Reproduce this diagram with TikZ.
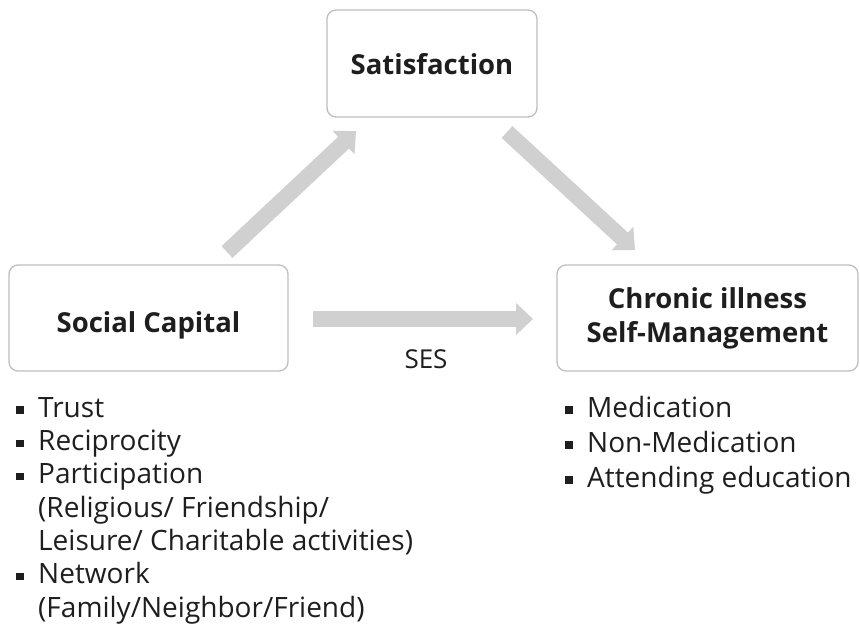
\documentclass[tikz,border=0pt]{standalone}
\usepackage{fontspec}
\setmainfont{Open Sans}
\usetikzlibrary{arrows.meta}
\definecolor{arrowgray}{HTML}{D0D0D0}
\definecolor{boxline}{HTML}{BEBEBE}
\definecolor{ink}{HTML}{1E1E1E}
\tikzset{
  box/.style={draw=boxline, line width=1.3pt, rounded corners=9pt, fill=white, inner sep=0pt,
    text=ink, align=center, font=\fontsize{27.5}{33.5}\selectfont\bfseries, text height=21pt, text depth=0pt},
  flow/.style={draw=arrowgray, line width=16pt, -{Triangle[length=17pt,width=31pt]}},
  itemtext/.style={font=\fontsize{28}{33}\selectfont, text=ink, anchor=base west, inner sep=0pt},
  bul/.style={fill=ink, minimum size=7.5pt, inner sep=0pt},
  seslabel/.style={font=\fontsize{26}{30}\selectfont, text=ink, anchor=base, inner sep=0pt}
}
\begin{document}
\begin{tikzpicture}[x=1pt,y=-1pt]
\useasboundingbox (0,0) rectangle (860,635);
\node[box, minimum width=210pt, minimum height=107pt] (sat) at (432,63.5) {Satisfaction};
\node[box, minimum width=279pt, minimum height=106pt, text height=28pt] (sc) at (148.5,318) {Social Capital};
\node[box, minimum width=301pt, minimum height=106pt, text height=48pt] (cism) at (707.5,318) {Chronic illness\\Self-Management};

\coordinate (upA) at (227,252);
\coordinate (upB) at (356,131);
\coordinate (dnA) at (507,132);
\coordinate (dnB) at (635,250);
\coordinate (hA) at (313,319);
\coordinate (hB) at (533,319);
\draw[flow] (upA) -- (upB);
\draw[flow] (dnA) -- (dnB);
\draw[flow] (hA) -- (hB);

\node[seslabel] (ses) at (426,368) {SES};

% left list
\node[itemtext] (l1) at (38,417) {Trust};
\node[itemtext] (l2) at (38,450.3) {Reciprocity};
\node[itemtext] (l3) at (38,483.7) {Participation};
\node[itemtext] (l4) at (38,517) {(Religious/ Friendship/};
\node[itemtext] (l5) at (38,550.3) {Leisure/ Charitable activities)};
\node[itemtext] (l6) at (38,583.7) {Network};
\node[itemtext] (l7) at (38,617) {(Family/Neighbor/Friend)};
\node[bul] (b1) at (20,410) {};
\node[bul] (b2) at (20,443.3) {};
\node[bul] (b3) at (20,476.7) {};
\node[bul] (b6) at (20,576.7) {};

% right list
\node[itemtext] (r1) at (587,417) {Medication};
\node[itemtext] (r2) at (587,452) {Non-Medication};
\node[itemtext] (r3) at (587,487) {Attending education};
\node[bul] (rb1) at (569,410) {};
\node[bul] (rb2) at (569,445) {};
\node[bul] (rb3) at (569,480) {};
\end{tikzpicture}
\end{document}
